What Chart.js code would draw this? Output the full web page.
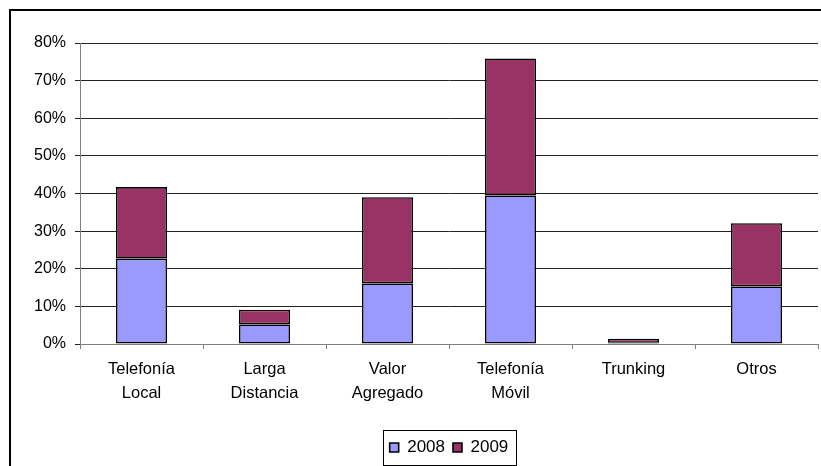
<!DOCTYPE html>
<html>
<head>
<meta charset="utf-8">
<script src="https://cdn.jsdelivr.net/npm/chart.js@4"></script>
<style>
html,body{margin:0;padding:0;background:#fff;}
#wrap{position:relative;width:821px;height:466px;}
</style>
</head>
<body>
<div id="wrap"><canvas id="c" width="821" height="466"></canvas></div>
<script>
const categories = [["Telefonía","Local"],["Larga","Distancia"],["Valor","Agregado"],["Telefonía","Móvil"],["Trunking"],["Otros"]];
const seriesNames = ["2008","2009"];
const values2008 = [22.7, 5.2, 16.1, 39.5, 0.3, 15.3];
const values2009 = [19.0, 3.9, 22.9, 36.4, 1.1, 16.8];
const yTicks = [0,10,20,30,40,50,60,70,80];

const FONT = "'Liberation Sans', Arial, sans-serif";

const framePlugin = {
  id: 'frame',
  afterLayout(chart){
    const lg = chart.legend, ca = chart.chartArea;
    if(!lg) return;
    const shift = (ca.left + ca.right)/2 - (lg.left + lg.right)/2;
    lg.left += shift; lg.right += shift;
  },
  beforeDraw(chart){
    const ctx = chart.ctx;
    ctx.save();
    ctx.fillStyle = '#fff';
    ctx.fillRect(0,0,chart.width,chart.height);
    ctx.strokeStyle = '#000';
    ctx.lineWidth = 2;
    ctx.strokeRect(10,10,chart.width+20,chart.height+20);
    ctx.restore();
  },
  afterDraw(chart){
    const lg = chart.legend;
    if(!lg || !lg.lineWidths) return;
    const w = lg.lineWidths[0] + 6;
    const cx = (lg.left + lg.right)/2;
    const l = cx - w/2, r = cx + w/2;
    const ctx = chart.ctx;
    ctx.save();
    ctx.strokeStyle = '#000';
    ctx.lineWidth = 1;
    const top = 430, bottom = 465;
    ctx.strokeRect(Math.round(l)+0.5, top+0.5, Math.round(r-l), bottom-top);
    ctx.restore();
  }
};

new Chart(document.getElementById('c'), {
  type: 'bar',
  data: {
    labels: categories,
    datasets: [
      {label: seriesNames[0], data: values2008, backgroundColor: '#9999FF', borderColor: '#000', borderWidth: 1.6, borderSkipped: false},
      {label: seriesNames[1], data: values2009, backgroundColor: '#993366', borderColor: '#000', borderWidth: 1.6, borderSkipped: false}
    ]
  },
  options: {
    responsive: false,
    animation: false,
    devicePixelRatio: 1,
    layout: {padding: {left: 10, top: 43, right: 3, bottom: 0}},
    datasets: {bar: {categoryPercentage: 1.0, barPercentage: 0.415}},
    plugins: {
      tooltip: {enabled: false},
      legend: {
        position: 'bottom',
        labels: {
          boxWidth: 9, boxHeight: 9, color: '#000', padding: 8,
          font: {family: FONT, size: 17}
        }
      }
    },
    scales: {
      x: {
        stacked: true,
        offset: true,
        border: {color: '#808080', width: 1},
        grid: {offset: true, drawOnChartArea: false, drawTicks: true, tickLength: 5, color: '#808080'},
        ticks: {color: '#000', padding: 9, maxRotation: 0, autoSkip: false, font: {family: FONT, size: 16.5, lineHeight: 1.42}},
        afterFit(scale){ scale.height = 87; }
      },
      y: {
        stacked: true,
        min: 0, max: 80,
        afterBuildTicks(scale){ scale.ticks = yTicks.map(v=>({value:v})); },
        border: {color: '#808080', width: 1},
        grid: {color: '#222', tickLength: 5, drawTicks: true, lineWidth: 1},
        ticks: {color: '#000', padding: 9, font: {family: FONT, size: 16}, callback: v => v + '%'},
        afterFit(scale){ scale.width = 70; }
      }
    }
  },
  plugins: [framePlugin]
});
</script>
</body>
</html>
